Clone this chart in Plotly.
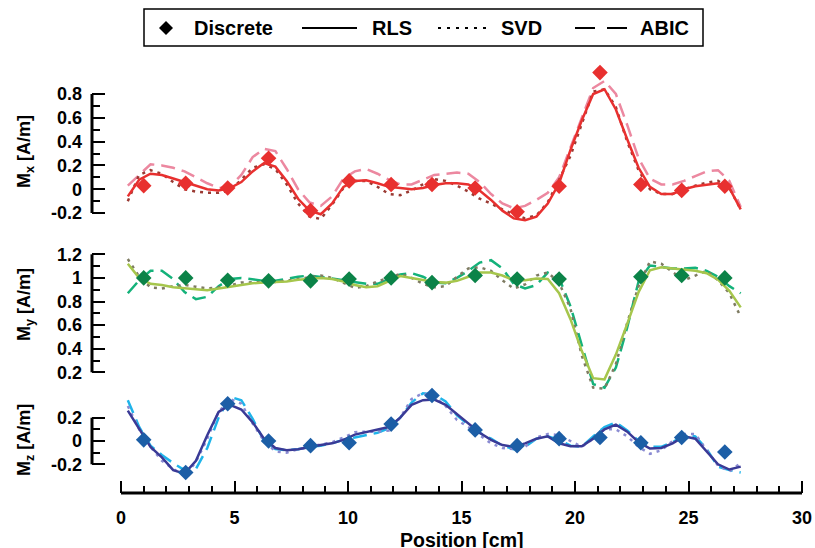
import plotly.graph_objects as go

# ---------------- data ----------------
x_disc = [1.0, 2.85, 4.7, 6.5, 8.35, 10.05, 11.9, 13.7, 15.6, 17.45, 19.3, 21.1, 22.9, 24.7, 26.6]
mx_disc = [0.03, 0.05, 0.01, 0.26, -0.18, 0.07, 0.04, 0.04, 0.01, -0.19, 0.025, 0.98, 0.04, -0.01, 0.025]
my_disc = [1.0, 1.0, 0.98, 0.975, 0.975, 0.99, 1.0, 0.96, 1.02, 0.99, 0.99, 0.0, 1.01, 1.02, 1.0]
mz_disc = [0.01, -0.27, 0.32, 0.0, -0.04, -0.015, 0.145, 0.39, 0.095, -0.04, 0.02, 0.03, -0.015, 0.03, -0.095]

x_cont = [0.3, 0.8, 1.3, 1.8, 2.3, 2.8, 3.3, 3.8, 4.3, 4.8, 5.3, 5.8, 6.3, 6.8, 7.3, 7.8, 8.3, 8.8,
          9.3, 9.8, 10.3, 10.8, 11.3, 11.8, 12.3, 12.8, 13.3, 13.8, 14.3, 14.8, 15.3, 15.8, 16.3,
          16.8, 17.3, 17.8, 18.3, 18.8, 19.3, 19.8, 20.3, 20.8, 21.3, 21.8, 22.3, 22.8, 23.3, 23.8,
          24.3, 24.8, 25.3, 25.8, 26.3, 26.8, 27.3]

mx_rls = [-0.06, 0.08, 0.13, 0.12, 0.09, 0.06, 0.03, 0.0, -0.01, 0.01, 0.06, 0.15, 0.22, 0.19, 0.07,
          -0.08, -0.18, -0.21, -0.12, 0.02, 0.07, 0.075, 0.05, 0.02, 0.01, 0.0, 0.01, 0.035, 0.05,
          0.05, 0.04, -0.01, -0.09, -0.18, -0.245, -0.26, -0.23, -0.12, 0.05, 0.33, 0.58, 0.8, 0.84,
          0.67, 0.42, 0.18, 0.02, -0.04, -0.04, 0.0, 0.025, 0.04, 0.05, 0.01, -0.17]
mx_svd = [-0.10, 0.12, 0.16, 0.13, 0.06, 0.0, -0.02, -0.03, -0.03, -0.01, 0.08, 0.18, 0.21, 0.17,
          0.04, -0.12, -0.23, -0.25, -0.13, 0.01, 0.07, 0.07, 0.02, -0.04, -0.05, -0.01, 0.04, 0.085,
          0.07, 0.03, -0.02, -0.08, -0.12, -0.17, -0.21, -0.245, -0.22, -0.11, 0.08, 0.28, 0.55,
          0.82, 0.84, 0.69, 0.40, 0.16, 0.0, -0.04, -0.04, 0.0, 0.03, 0.055, 0.07, 0.01, -0.17]
mx_abic = [0.03, 0.12, 0.21, 0.20, 0.18, 0.15, 0.10, 0.05, 0.01, 0.02, 0.12, 0.27, 0.34, 0.32, 0.17,
           0.0, -0.11, -0.14, -0.06, 0.09, 0.15, 0.17, 0.13, 0.08, 0.04, 0.04, 0.08, 0.12, 0.13, 0.14,
           0.13, 0.06, -0.04, -0.12, -0.16, -0.14, -0.09, -0.03, 0.1, 0.35, 0.6, 0.85, 0.91, 0.8,
           0.54, 0.26, 0.09, 0.04, 0.04, 0.07, 0.11, 0.15, 0.16, 0.07, -0.15]

my_rls = [1.12, 1.0, 0.95, 0.94, 0.92, 0.91, 0.90, 0.895, 0.91, 0.925, 0.94, 0.955, 0.96, 0.965, 0.97,
          0.985, 0.995, 1.0, 0.99, 0.97, 0.94, 0.92, 0.93, 0.975, 1.015, 1.0, 0.98, 0.965, 0.96, 0.975,
          1.01, 1.045, 1.045, 1.02, 0.98, 0.98, 0.995, 0.99, 0.87, 0.65, 0.38, 0.15, 0.14, 0.35, 0.61,
          0.88, 1.065, 1.09, 1.08, 1.07, 1.06, 1.04, 0.985, 0.89, 0.75]
my_svd = [1.16, 1.01, 0.92, 0.91, 0.93, 0.94, 0.925, 0.91, 0.92, 0.935, 0.96, 0.965, 0.965, 0.965,
          0.975, 0.99, 1.005, 1.02, 1.0, 0.96, 0.915, 0.93, 0.97, 1.0, 1.035, 1.0, 0.95, 0.92, 0.93,
          1.01, 1.08, 1.09, 1.06, 0.98, 0.91, 0.945, 1.02, 1.045, 0.96, 0.74, 0.34, 0.07, 0.06, 0.27,
          0.62, 0.93, 1.14, 1.12, 1.05, 0.98, 1.02, 1.06, 0.98, 0.87, 0.67]
my_abic = [0.87, 0.98, 1.06, 1.06, 0.99, 0.88, 0.82, 0.84, 0.93, 0.99, 1.0, 0.99, 0.975, 0.975, 0.995,
           1.01, 1.02, 1.01, 0.995, 0.98, 0.965, 0.95, 0.95, 0.99, 1.03, 1.04, 1.01, 0.96, 0.955, 1.0,
           1.06, 1.13, 1.15, 1.08, 0.95, 0.91, 0.94, 1.045, 1.0, 0.76, 0.42, 0.1, 0.07, 0.24, 0.58,
           0.97, 1.105, 1.09, 1.08, 1.08, 1.085, 1.06, 1.01, 0.93, 0.87]

mz_rls = [0.26, 0.1, -0.05, -0.14, -0.25, -0.28, -0.17, 0.05, 0.25, 0.31, 0.27, 0.16, 0.02, -0.06,
          -0.08, -0.07, -0.05, -0.035, -0.02, 0.01, 0.055, 0.075, 0.095, 0.12, 0.2, 0.31, 0.35, 0.355,
          0.31, 0.23, 0.15, 0.07, 0.01, -0.035, -0.05, -0.02, 0.02, 0.04, -0.02, -0.045, -0.045, 0.02,
          0.1, 0.14, 0.08, -0.01, -0.065, -0.06, -0.02, 0.04, 0.02, -0.09, -0.2, -0.245, -0.22]
mz_svd = [0.3, 0.1, -0.05, -0.17, -0.24, -0.3, -0.18, 0.02, 0.25, 0.36, 0.32, 0.15, 0.0, -0.09, -0.1,
          -0.07, -0.05, -0.03, -0.01, 0.03, 0.075, 0.08, 0.08, 0.09, 0.2, 0.36, 0.41, 0.38, 0.3, 0.18,
          0.12, 0.05, -0.02, -0.06, -0.07, -0.05, 0.03, 0.06, 0.05, 0.0, -0.05, 0.02, 0.1, 0.1, 0.04,
          -0.05, -0.11, -0.08, 0.0, 0.06, 0.06, -0.08, -0.21, -0.26, -0.19]
mz_abic = [0.35, 0.12, -0.04, -0.12, -0.19, -0.25, -0.24, -0.06, 0.2, 0.38, 0.35, 0.19, 0.0, -0.07,
           -0.08, -0.07, -0.05, -0.04, -0.02, 0.01, 0.03, 0.05, 0.07, 0.11, 0.2, 0.33, 0.41, 0.4, 0.34,
           0.22, 0.14, 0.07, 0.02, -0.04, -0.07, -0.05, 0.02, 0.04, 0.01, -0.04, -0.05, 0.04, 0.12,
           0.16, 0.09, 0.0, -0.05, -0.05, -0.01, 0.05, 0.04, -0.07, -0.22, -0.25, -0.27]

x_ticks = [0, 5, 10, 15, 20, 25, 30]
x_minor = [1, 2, 3, 4, 6, 7, 8, 9, 11, 12, 13, 14, 16, 17, 18, 19, 21, 22, 23, 24, 26, 27, 28, 29]
mx_ticks = [-0.2, 0, 0.2, 0.4, 0.6, 0.8]
mx_labels = ["-0.2", "0", "0.2", "0.4", "0.6", "0.8"]
mx_minor = [-0.1, 0.1, 0.3, 0.5, 0.7]
my_ticks = [0.2, 0.4, 0.6, 0.8, 1.0, 1.2]
my_labels = ["0.2", "0.4", "0.6", "0.8", "1", "1.2"]
my_minor = [0.3, 0.5, 0.7, 0.9, 1.1]
mz_ticks = [-0.2, 0, 0.2]
mz_labels = ["-0.2", "0", "0.2"]
mz_minor = [-0.1, 0.1]
legend_names = ["Discrete", "RLS", "SVD", "ABIC"]

# ---------------- layout geometry (pixels) ----------------
W, H = 815, 548
L, R, T, B = 92, 10, 60, 55
PW = W - L - R
PH = H - T - B
def fx(px):
    return (px - L) / PW
def fy(py):
    return (H - B - py) / PH

FONT = "Liberation Sans, Arial, sans-serif"
DOT = "3px,5px"
DASH = "14px,7px"
LW = 2.5
TICKFONT = dict(family=FONT, size=18, color="black", weight="bold")

panels = [
    ("y", mx_disc, mx_rls, mx_svd, mx_abic, ("#e8302f", "#e8302f", "#9a3a33", "#ec88a0"),
     (62, 226), (-0.309, 1.069), mx_ticks, mx_labels, mx_minor, "M<sub>x</sub> [A/m]", 152),
    ("y2", my_disc, my_rls, my_svd, my_abic, ("#0b8348", "#a6c64c", "#7e7b62", "#14b27a"),
     (230, 391), (0.0415, 1.406), my_ticks, my_labels, my_minor, "M<sub>y</sub> [A/m]", 305),
    ("y3", mz_disc, mz_rls, mz_svd, mz_abic, ("#1c5ea6", "#3a3a96", "#8a8bd2", "#1fb4ea"),
     (391, 489), (-0.412, 0.429), mz_ticks, mz_labels, mz_minor, "M<sub>z</sub> [A/m]", 440),
]

fig = go.Figure()
shapes = []
annotations = []
layout_axes = {}

for ax, disc, rls, svd, abic, cols, dom, rng, tv, tt, tmin, title, tcy in panels:
    fig.add_trace(go.Scatter(x=x_cont, y=abic, xaxis="x", yaxis=ax, mode="lines", name="ABIC",
                             line=dict(color=cols[3], width=LW, dash=DASH), showlegend=False))
    fig.add_trace(go.Scatter(x=x_cont, y=svd, xaxis="x", yaxis=ax, mode="lines", name="SVD",
                             line=dict(color=cols[2], width=LW, dash=DOT), showlegend=False))
    fig.add_trace(go.Scatter(x=x_cont, y=rls, xaxis="x", yaxis=ax, mode="lines", name="RLS",
                             line=dict(color=cols[1], width=LW), showlegend=False))
    fig.add_trace(go.Scatter(x=x_disc, y=disc, xaxis="x", yaxis=ax, mode="markers", name="Discrete",
                             marker=dict(symbol="diamond", size=12, color=cols[0]),
                             cliponaxis=False, showlegend=False))
    key = "yaxis" if ax == "y" else "yaxis" + ax[1:]
    layout_axes[key] = dict(
        domain=[fy(dom[1]), fy(dom[0])], range=list(rng), anchor="x", automargin=False,
        showline=False, showgrid=False, zeroline=False,
        tickmode="array", tickvals=tv, ticktext=tt, ticks="inside", ticklen=13, tickwidth=2,
        tickcolor="black", ticklabelstandoff=9, tickfont=TICKFONT,
        minor=dict(tickmode="array", tickvals=tmin, ticks="inside", ticklen=8, tickwidth=2,
                   tickcolor="black", showgrid=False),
    )
    shapes.append(dict(type="line", xref="paper", yref=ax, x0=0, x1=0, y0=tv[0], y1=tv[-1],
                       line=dict(color="black", width=3)))
    annotations.append(dict(text=title, xref="paper", yref="paper", x=fx(25), y=fy(tcy),
                            textangle=-90, showarrow=False, xanchor="center", yanchor="middle",
                            font=dict(family=FONT, size=18, color="black", weight="bold")))

# bottom x-axis line
shapes.append(dict(type="line", xref="x", yref="paper", x0=0, x1=30, y0=0, y1=0,
                   line=dict(color="black", width=3)))
annotations.append(dict(text="Position [cm]", xref="x", yref="paper", x=15, y=fy(527),
                        showarrow=False, xanchor="center", yanchor="top",
                        font=dict(family=FONT, size=19.5, color="black", weight="bold")))

# ---------------- legend (drawn as a box with samples and text) ----------------
LEG_Y = 28
shapes.append(dict(type="rect", xref="paper", yref="paper", x0=fx(144), x1=fx(703),
                   y0=fy(46), y1=fy(9), line=dict(color="black", width=1.5),
                   fillcolor="white", layer="above"))
dx, dy = 7, 7
shapes.append(dict(type="path", xref="paper", yref="paper", layer="above",
                   path=f"M{fx(166 - dx)},{fy(LEG_Y)} L{fx(166)},{fy(LEG_Y - dy)} "
                        f"L{fx(166 + dx)},{fy(LEG_Y)} L{fx(166)},{fy(LEG_Y + dy)} Z",
                   fillcolor="black", line=dict(color="black", width=0)))
for (x0, x1, dash) in [(302, 357, "solid"), (438, 490, "3px,6px"), (575, 627, "20px,12px")]:
    shapes.append(dict(type="line", xref="paper", yref="paper", layer="above",
                       x0=fx(x0), x1=fx(x1), y0=fy(LEG_Y), y1=fy(LEG_Y),
                       line=dict(color="black", width=2, dash=dash)))
for name, tx in zip(legend_names, [192, 370, 499, 638]):
    annotations.append(dict(text=name, xref="paper", yref="paper", x=fx(tx), y=fy(LEG_Y),
                            xanchor="left", yanchor="middle", showarrow=False,
                            font=dict(family=FONT, size=20, color="black", weight="bold")))

fig.update_layout(
    template="none",
    width=W, height=H, margin=dict(l=L, r=R, t=T, b=B, autoexpand=False),
    paper_bgcolor="white", plot_bgcolor="white", showlegend=False,
    xaxis=dict(range=[-1.278, 30.132], anchor="free", position=0, showline=False,
               automargin=False, showgrid=False, zeroline=False, tickmode="array",
               tickvals=x_ticks, ticks="inside", ticklen=12, tickwidth=2, tickcolor="black",
               ticklabelstandoff=12, tickfont=TICKFONT,
               minor=dict(tickmode="array", tickvals=x_minor, ticks="inside", ticklen=7,
                          tickwidth=2, tickcolor="black", showgrid=False)),
    shapes=shapes, annotations=annotations,
    **layout_axes,
)

fig.write_html("out.html")
